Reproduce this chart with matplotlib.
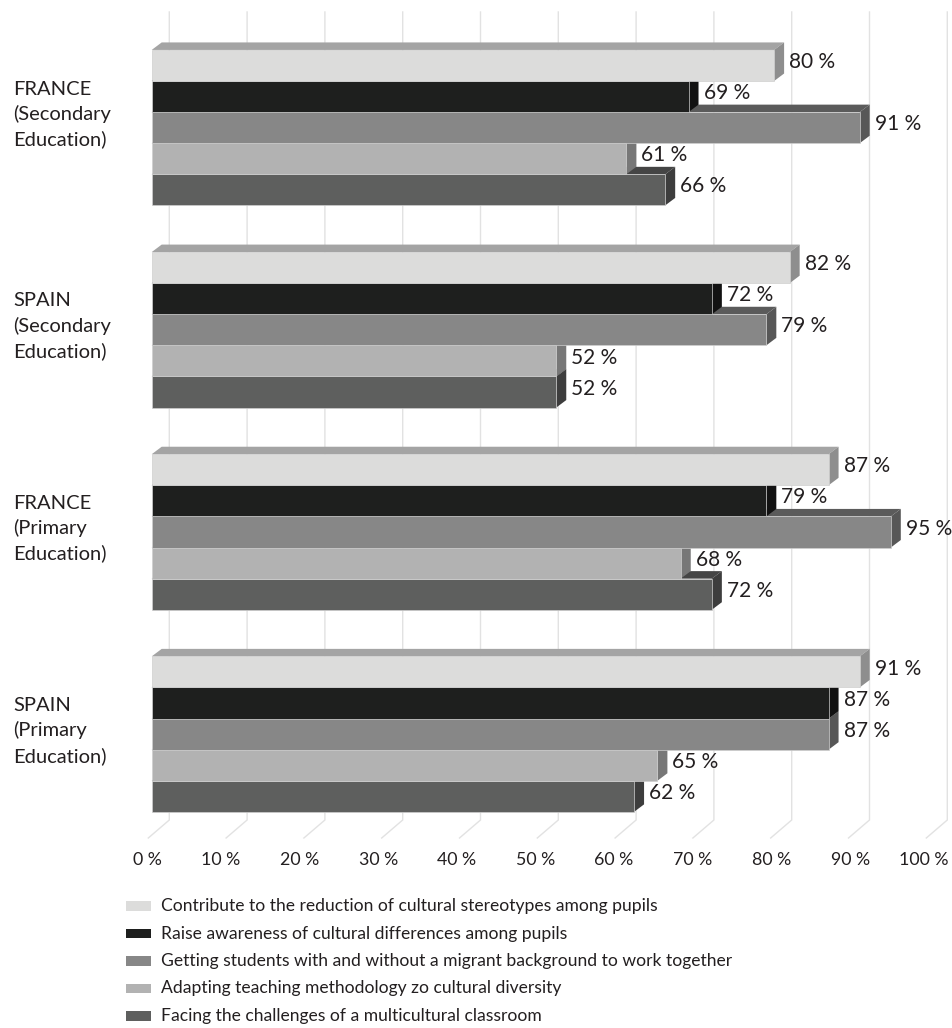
import matplotlib.pyplot as plt
from matplotlib.patches import Polygon, Rectangle

plt.rcParams['font.family'] = ['Lato', 'DejaVu Sans']

# ---------------- data ----------------
groups = ["FRANCE\n(Secondary\nEducation)", "SPAIN\n(Secondary\nEducation)",
          "FRANCE\n(Primary\nEducation)", "SPAIN\n(Primary\nEducation)"]

series_names = [
    "Contribute to the reduction of cultural stereotypes among pupils",
    "Raise awareness of cultural differences among pupils",
    "Getting students with and without a migrant background to work together",
    "Adapting teaching methodology zo cultural diversity",
    "Facing the challenges of a multicultural classroom",
]

reduce_stereotypes = [80, 82, 87, 91]
raise_awareness = [69, 72, 79, 87]
work_together = [91, 79, 95, 87]
adapt_method = [61, 52, 68, 65]
face_challenges = [66, 52, 72, 62]

tick_values = [0, 10, 20, 30, 40, 50, 60, 70, 80, 90, 100]

values = [reduce_stereotypes, raise_awareness, work_together, adapt_method, face_challenges]

# colours: front / top / side face of each series
front_cols = ['#dcdcdb', '#1e1f1e', '#878787', '#b2b2b2', '#5e5f5e']
top_cols = ['#a4a4a4', '#141414', '#5b5b5b', '#7c7c7c', '#454545']
side_cols = ['#8e8e8e', '#121212', '#575757', '#777777', '#3d3d3d']
text_col = '#231f20'

# ---------------- geometry ----------------
W, H = 952, 1028
PX = 7.78        # pixels per percent
X0 = 151.7       # pixel of 0 %
BAR = 31.1       # pixels per bar
Y0 = 26.6        # pixel of top of first category slot

DX = 10 / PX     # depth offset of the 3D bars
DY = 7.5 / BAR
BACK = 17.6 / PX  # back wall shift
SLOT = 6.5

# small vertical nudge of the category labels (in bar units)
label_shift = [-0.42, -0.11, -0.11, -0.11]

fig = plt.figure(figsize=(W / 100, H / 100), dpi=100, facecolor='white')
ax = fig.add_axes([0, 0, 1, 1])
ax.set_xlim(-X0 / PX, (W - X0) / PX)
ax.set_ylim((H - Y0) / BAR, -Y0 / BAR)
ax.axis('off')

# back wall grid + floor lines
top_y = (12 - Y0) / BAR
floor_y = (820 - Y0) / BAR
front_y = (838 - Y0) / BAR
for t in tick_values:
    xb = t + BACK
    ax.plot([xb, xb, xb - 21 / PX], [top_y, floor_y, front_y],
            color='#e2e2e2', lw=1, zorder=0, solid_joinstyle='miter')
    ax.text(t * 1.011 + 1.3, (860 - Y0) / BAR, f"{t} %", ha='right', va='center',
            fontsize=12.8, color=text_col)

# bars, drawn bottom to top inside each group
for g in range(len(groups)):
    base = g * SLOT + 0.75
    for i in reversed(range(len(values))):
        v = values[i][g]
        y1 = base + i
        y2 = y1 + 1
        ax.add_patch(Polygon([(0, y1), (v, y1), (v + DX, y1 - DY), (DX, y1 - DY)],
                             closed=True, facecolor=top_cols[i], edgecolor='none'))
        ax.add_patch(Polygon([(v, y1), (v, y2), (v + DX, y2 - DY), (v + DX, y1 - DY)],
                             closed=True, facecolor=side_cols[i], edgecolor='none'))
        ax.add_patch(Rectangle((0, y1), v, 1, facecolor=front_cols[i],
                               edgecolor='#cfcfcf', lw=0.5))
        ax.text(v + DX + 0.65, y1 + 0.5 - 0.11, f"{v} %", ha='left', va='center',
                fontsize=15, color=text_col)

    ax.text(-17.8, g * SLOT + 3.25 + label_shift[g], groups[g], ha='left', va='center',
            fontsize=14.5, color=text_col, linespacing=1.5)

# legend
for i, name in enumerate(series_names):
    yc = (906 - Y0) / BAR + i * 27.5 / BAR
    ax.add_patch(Rectangle((-25.7 / PX, yc - 0.15), 25 / PX, 0.3,
                           facecolor=front_cols[i], edgecolor='none'))
    ax.text(9.3 / PX, yc, name, ha='left', va='center', fontsize=12.6, color=text_col)

fig.savefig('out.png', dpi=100)
